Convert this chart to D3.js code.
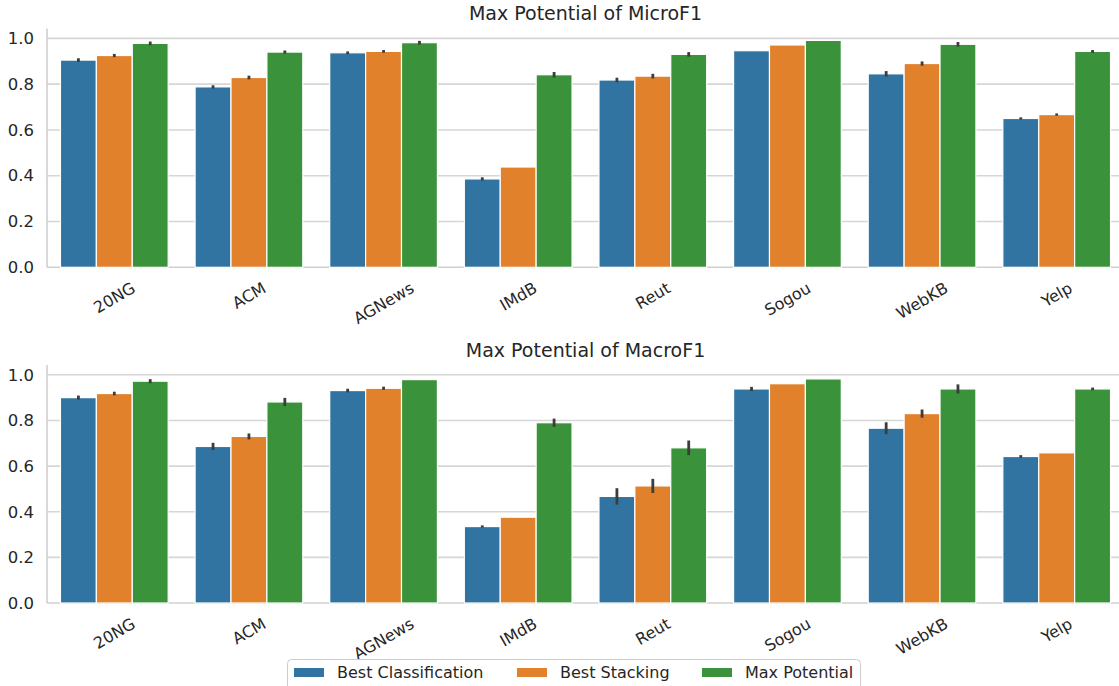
<!DOCTYPE html>
<html>
<head>
<meta charset="utf-8">
<script src="https://cdn.jsdelivr.net/npm/d3@7"></script>
<style>
  html, body { margin: 0; padding: 0; background: #ffffff; }
  svg { display: block; }
  text { font-family: "DejaVu Sans", sans-serif; fill: #262626; }
</style>
</head>
<body>
<svg id="chart" width="1119" height="686"></svg>
<script>
// Datasets on the x axis
const categories = ["20NG", "ACM", "AGNews", "IMdB", "Reut", "Sogou", "WebKB", "Yelp"];
// Hue levels
const seriesNames = ["Best Classification", "Best Stacking", "Max Potential"];
const seriesColors = ["#3274a1", "#e1812c", "#3a923a"];

// MicroF1 means per dataset
const microBestClassification = [0.905, 0.788, 0.937, 0.386, 0.818, 0.946, 0.845, 0.650];
const microBestStacking       = [0.925, 0.829, 0.943, 0.438, 0.835, 0.971, 0.890, 0.667];
const microMaxPotential       = [0.978, 0.940, 0.981, 0.841, 0.930, 0.991, 0.974, 0.943];
// MicroF1 confidence half-widths
const microErrClassification  = [0.008, 0.007, 0.006, 0.007, 0.010, 0.000, 0.012, 0.005];
const microErrStacking        = [0.007, 0.008, 0.006, 0.000, 0.010, 0.000, 0.009, 0.005];
const microErrMaxPotential    = [0.008, 0.007, 0.008, 0.012, 0.010, 0.000, 0.010, 0.006];

// MacroF1 means per dataset
const macroBestClassification = [0.900, 0.686, 0.931, 0.335, 0.467, 0.938, 0.766, 0.642];
const macroBestStacking       = [0.918, 0.730, 0.941, 0.376, 0.513, 0.961, 0.830, 0.658];
const macroMaxPotential       = [0.972, 0.881, 0.979, 0.790, 0.680, 0.982, 0.938, 0.938];
// MacroF1 confidence half-widths
const macroErrClassification  = [0.009, 0.016, 0.008, 0.005, 0.036, 0.009, 0.026, 0.006];
const macroErrStacking        = [0.008, 0.013, 0.007, 0.000, 0.031, 0.000, 0.018, 0.000];
const macroErrMaxPotential    = [0.009, 0.018, 0.000, 0.018, 0.032, 0.000, 0.020, 0.006];

const yTickValues = [0.0, 0.2, 0.4, 0.6, 0.8, 1.0];
const yTickLabels = ["0.0", "0.2", "0.4", "0.6", "0.8", "1.0"];

const svg = d3.select("#chart");

const axLeft = 47, axRight = 1124;

function drawPanel(title, means, errs, axTop, axBottom) {
  const g = svg.append("g");

  const x = d3.scaleBand()
    .domain(categories)
    .range([axLeft, axRight])
    .paddingInner(0.2)
    .paddingOuter(0.1);

  const xs = d3.scaleBand()
    .domain(seriesNames)
    .range([0, x.bandwidth()]);

  const y = d3.scaleLinear()
    .domain([0, 1.043])
    .range([axBottom, axTop]);

  // horizontal grid
  g.append("g")
    .selectAll("line")
    .data(yTickValues.filter(v => v > 0))
    .join("line")
    .attr("x1", axLeft).attr("x2", axRight)
    .attr("y1", d => y(d)).attr("y2", d => y(d))
    .attr("stroke", "#d6d6d6")
    .attr("stroke-width", 1.6);

  // y tick labels
  const yAxis = d3.axisLeft(y)
    .tickValues(yTickValues)
    .tickFormat((d, i) => yTickLabels[i])
    .tickSize(0)
    .tickPadding(13);
  const ya = g.append("g").attr("transform", `translate(${axLeft},0)`).call(yAxis);
  ya.select(".domain").remove();
  ya.selectAll("text")
    .attr("font-family", "DejaVu Sans")
    .attr("font-size", 16.5)
    .attr("fill", "#262626");

  // spines
  g.append("line")
    .attr("x1", axLeft).attr("x2", axLeft)
    .attr("y1", axTop).attr("y2", axBottom)
    .attr("stroke", "#d0d0d0").attr("stroke-width", 1.6);
  g.append("line")
    .attr("x1", axLeft).attr("x2", axRight)
    .attr("y1", axBottom).attr("y2", axBottom)
    .attr("stroke", "#d0d0d0").attr("stroke-width", 1.6);

  // bars
  const rows = [];
  categories.forEach((c, ci) => {
    seriesNames.forEach((s, si) => {
      rows.push({ cat: c, series: s, si: si, v: means[si][ci], e: errs[si][ci] });
    });
  });

  g.append("g")
    .selectAll("rect")
    .data(rows)
    .join("rect")
    .attr("x", d => x(d.cat) + xs(d.series))
    .attr("width", xs.bandwidth())
    .attr("y", d => y(d.v))
    .attr("height", d => y(0) - y(d.v))
    .attr("fill", d => seriesColors[d.si])
    .attr("stroke", "#ffffff")
    .attr("stroke-width", 1.2);

  // confidence intervals
  g.append("g")
    .selectAll("line")
    .data(rows.filter(d => d.e > 0))
    .join("line")
    .attr("x1", d => x(d.cat) + xs(d.series) + xs.bandwidth() / 2)
    .attr("x2", d => x(d.cat) + xs(d.series) + xs.bandwidth() / 2)
    .attr("y1", d => y(d.v - d.e))
    .attr("y2", d => y(d.v + d.e))
    .attr("stroke", "#3c3c3c")
    .attr("stroke-width", 2.8);

  // rotated category labels
  const fs = 16;
  const labelTop = axBottom + 14;
  const xl = g.append("g");
  categories.forEach(c => {
    const t = xl.append("text")
      .attr("font-size", fs)
      .attr("text-anchor", "middle")
      .attr("dy", "0.36em")
      .text(c);
    const w = t.node().getComputedTextLength();
    const capH = 0.73 * fs;
    const half = (w * 0.5 + capH * 0.866) / 2;
    const cx = x(c) + x.bandwidth() / 2;
    t.attr("transform", `translate(${cx},${labelTop + half}) rotate(-30)`);
  });

  // title
  g.append("text")
    .attr("x", (axLeft + axRight) / 2)
    .attr("y", axTop - 8.5)
    .attr("text-anchor", "middle")
    .attr("font-size", 19)
    .text(title);
}

drawPanel("Max Potential of MicroF1",
  [microBestClassification, microBestStacking, microMaxPotential],
  [microErrClassification, microErrStacking, microErrMaxPotential],
  28.5, 267.3);

drawPanel("Max Potential of MacroF1",
  [macroBestClassification, macroBestStacking, macroMaxPotential],
  [macroErrClassification, macroErrStacking, macroErrMaxPotential],
  365, 603);

// legend
const legend = svg.append("g");
legend.append("rect")
  .attr("x", 287.5).attr("y", 659.5)
  .attr("width", 573).attr("height", 40)
  .attr("rx", 4)
  .attr("fill", "#ffffff")
  .attr("stroke", "#cccccc")
  .attr("stroke-width", 1);

const legendX = [294, 517, 702];
seriesNames.forEach((s, i) => {
  legend.append("rect")
    .attr("x", legendX[i]).attr("y", 668)
    .attr("width", 30).attr("height", 9)
    .attr("fill", seriesColors[i]);
  legend.append("text")
    .attr("x", legendX[i] + 43).attr("y", 678)
    .attr("font-size", 16)
    .text(s);
});
</script>
</body>
</html>
